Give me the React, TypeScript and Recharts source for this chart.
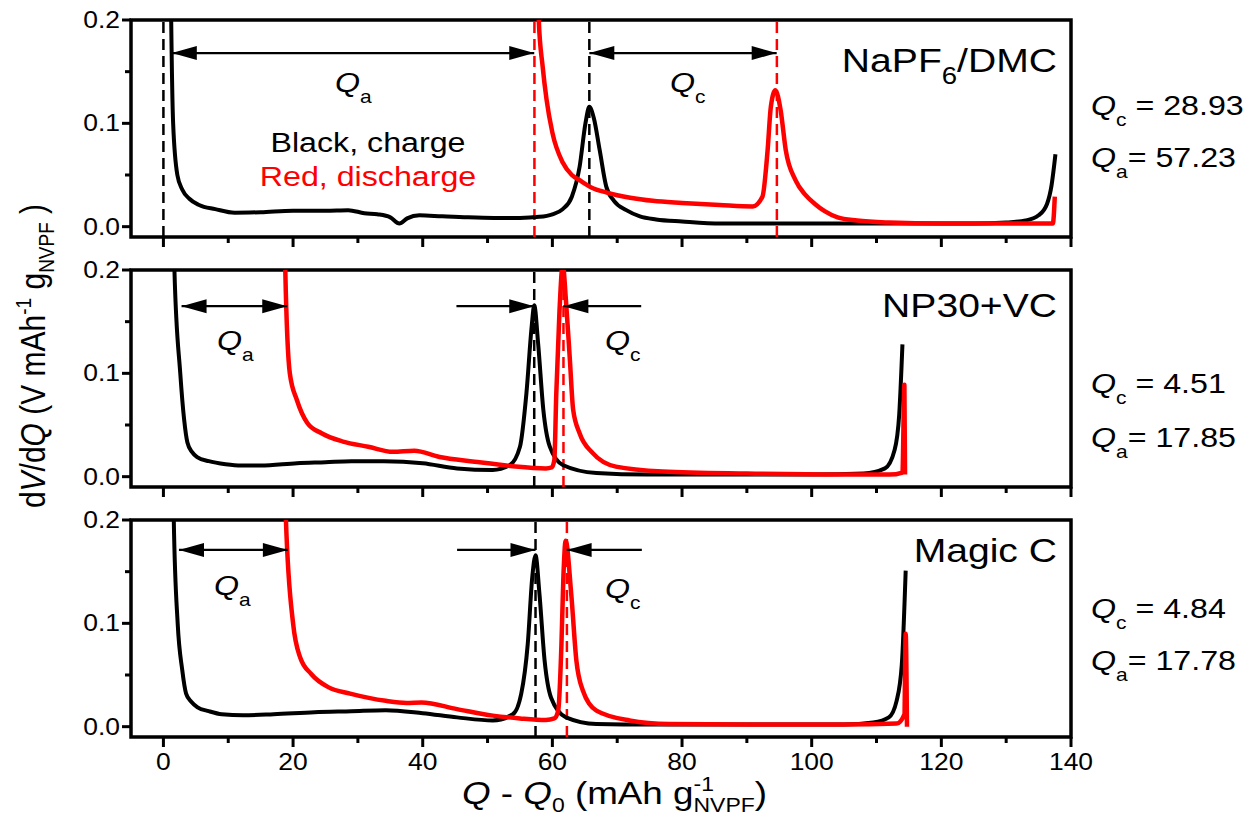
import React from 'react'
import { LineChart, Line, XAxis, YAxis, ReferenceLine, ReferenceArea } from 'recharts'

const FONT = '"Liberation Sans", Arial, Helvetica, sans-serif'
const SX = 1.15 // the source figure is slightly stretched horizontally
const RED = '#ff0000'

const xTicks = [0, 10, 20, 30, 40, 50, 60, 70, 80, 90, 100, 110, 120, 130, 140]
const yTicks = [0, 0.05, 0.1, 0.15, 0.2]

// NaPF6/DMC
const napfChargeQ = [0.9, 1.2, 1.5, 2.15, 2.9, 4, 5.5, 8, 11, 15, 20, 25, 28.5, 31, 33, 35, 36.4, 37.6, 39.5, 43, 47, 51, 55, 58, 60, 61.6, 63, 64.2, 65.1, 65.7, 66.4, 67.3, 68.3, 69.5, 71.4, 73.5, 76, 80, 86, 95, 105, 115, 125, 130, 133, 135, 136.3, 137, 137.6]
const napfChargeV = [0.4, 0.2, 0.1, 0.05, 0.036, 0.027, 0.021, 0.017, 0.0135, 0.014, 0.0155, 0.0155, 0.016, 0.013, 0.012, 0.009, 0.003, 0.008, 0.011, 0.01, 0.009, 0.0085, 0.0085, 0.0095, 0.012, 0.017, 0.029, 0.058, 0.1, 0.116, 0.105, 0.074, 0.039, 0.025, 0.016, 0.01, 0.007, 0.005, 0.003, 0.003, 0.003, 0.003, 0.003, 0.004, 0.006, 0.011, 0.022, 0.04, 0.07]
const napfDischargeQ = [57.6, 57.9, 58.5, 59.1, 60, 61.6, 63, 64.2, 66, 68.4, 72, 75.5, 80, 85.8, 90.9, 92.4, 93.2, 93.7, 94.4, 95.2, 96, 97.5, 99, 100.5, 102, 104, 107, 112, 120, 130, 137.2, 137.5]
const napfDischargeV = [0.35, 0.2, 0.155, 0.123, 0.091, 0.062, 0.05, 0.045, 0.038, 0.033, 0.028, 0.025, 0.023, 0.021, 0.0196, 0.029, 0.074, 0.116, 0.132, 0.113, 0.074, 0.045, 0.031, 0.022, 0.015, 0.009, 0.006, 0.004, 0.003, 0.003, 0.003, 0.029]

// NP30+VC
const npChargeQ = [1.5, 1.7, 2.6, 3.2, 3.7, 4.4, 5.2, 7, 9.6, 12, 15, 20.6, 25, 29, 34, 40, 45.3, 50.8, 53.4, 55, 56, 56.8, 57.2, 57.8, 58.6, 59.6, 61.6, 66.8, 74.5, 85, 100, 108, 111.3, 112.8, 113.5, 114]
const npChargeV = [0.35, 0.2, 0.1, 0.055, 0.033, 0.024, 0.019, 0.015, 0.012, 0.0107, 0.0107, 0.013, 0.014, 0.015, 0.015, 0.013, 0.008, 0.0065, 0.011, 0.029, 0.081, 0.145, 0.166, 0.129, 0.065, 0.029, 0.0113, 0.0035, 0.002, 0.002, 0.002, 0.003, 0.008, 0.026, 0.06, 0.128]
const npDischargeQ = [18.6, 18.8, 19.5, 20.6, 22.2, 24.4, 27.7, 31.6, 35.4, 38.7, 42.6, 48, 53.5, 59, 59.9, 60.3, 60.6, 61.1, 61.6, 62.1, 62.7, 63.2, 64.2, 66.2, 69.8, 77, 90, 105, 112, 114, 114.3, 114.4]
const npDischargeV = [0.35, 0.2, 0.1, 0.074, 0.052, 0.042, 0.034, 0.029, 0.024, 0.025, 0.019, 0.0145, 0.0104, 0.008, 0.009, 0.016, 0.08, 0.161, 0.205, 0.17, 0.113, 0.065, 0.042, 0.023, 0.0097, 0.005, 0.003, 0.002, 0.002, 0.004, 0.089, 0.002]

// Magic C
const mcChargeQ = [1.4, 1.6, 2.2, 2.9, 3.5, 4.3, 5.2, 7, 9, 12.3, 17, 23.3, 29, 34.3, 40, 45.3, 50.8, 53.9, 55.2, 56.2, 56.9, 57.4, 58, 58.8, 59.8, 62.1, 66.8, 75, 90, 105, 109.5, 111.9, 113.1, 113.9, 114.5]
const mcChargeV = [0.35, 0.2, 0.1, 0.055, 0.032, 0.024, 0.019, 0.015, 0.012, 0.011, 0.012, 0.014, 0.015, 0.016, 0.013, 0.009, 0.006, 0.012, 0.032, 0.08, 0.145, 0.166, 0.129, 0.064, 0.028, 0.009, 0.0026, 0.002, 0.002, 0.002, 0.004, 0.009, 0.025, 0.06, 0.151]
const mcDischargeQ = [18.7, 18.9, 20, 21.1, 22.8, 25.5, 28.8, 34.3, 37.5, 39.8, 45.3, 50.8, 55, 59, 60.3, 60.9, 61.4, 61.7, 62.05, 62.9, 63.7, 64.7, 66.8, 71.9, 78, 90, 105, 113.1, 114.3, 114.5, 114.7]
const mcDischargeV = [0.35, 0.2, 0.1, 0.067, 0.051, 0.038, 0.032, 0.025, 0.023, 0.0235, 0.017, 0.0107, 0.008, 0.0065, 0.008, 0.0155, 0.08, 0.145, 0.18, 0.129, 0.064, 0.035, 0.0155, 0.006, 0.0026, 0.002, 0.002, 0.003, 0.012, 0.09, 0]

// dashed markers (peak / onset positions)
const napfBlackMarks = [0, 65.7]
const napfRedMarks = [57.23, 94.63]
const npBlackMarks = [57.2]
const npRedMarks = [61.71]
const mcBlackMarks = [57.4]
const mcRedMarks = [62.24]

type Arrow = { from: number; to: number; y: number; both: boolean }
const napfArrows: Arrow[] = [
  { from: 1.3, to: 57.2, y: 0.168, both: true },
  { from: 65.7, to: 94.6, y: 0.168, both: true },
]
const npArrows: Arrow[] = [
  { from: 2.8, to: 19.1, y: 0.165, both: true },
  { from: 45.2, to: 57.2, y: 0.165, both: false },
  { from: 73.7, to: 61.7, y: 0.165, both: false },
]
const mcArrows: Arrow[] = [
  { from: 2.4, to: 19.2, y: 0.171, both: true },
  { from: 45.3, to: 57.4, y: 0.171, both: false },
  { from: 73.8, to: 62.2, y: 0.171, both: false },
]

const zip = (q: number[], v: number[]) => q.map((x, i) => ({ x, y: v[i] }))

const panels = [
  { key: 'napf', top: 0, charge: zip(napfChargeQ, napfChargeV), discharge: zip(napfDischargeQ, napfDischargeV), black: napfBlackMarks, red: napfRedMarks, arrows: napfArrows, labels: false },
  { key: 'np', top: 250, charge: zip(npChargeQ, npChargeV), discharge: zip(npDischargeQ, npDischargeV), black: npBlackMarks, red: npRedMarks, arrows: npArrows, labels: false },
  { key: 'mc', top: 499.5, charge: zip(mcChargeQ, mcChargeV), discharge: zip(mcDischargeQ, mcDischargeV), black: mcBlackMarks, red: mcRedMarks, arrows: mcArrows, labels: true },
]

function XTick({ x, y, payload, showLabel }: any) {
  const v = payload.value
  const major = v % 20 === 0
  return (
    <g>
      <line x1={x} x2={x} y1={y} y2={y + (major ? 10 : 6)} stroke="#000" strokeWidth={3} />
      {showLabel && major && (
        <text transform={`translate(${x},${y + 33}) scale(${SX},1)`} textAnchor="middle" fontSize={23} fontFamily={FONT} fill="#000">
          {v}
        </text>
      )}
    </g>
  )
}

function YTick({ x, y, payload }: any) {
  const v = payload.value
  const major = Math.abs(v * 10 - Math.round(v * 10)) < 1e-6
  return (
    <g>
      <line x1={x} x2={x - (major ? 9 : 6)} y1={y} y2={y} stroke="#000" strokeWidth={3} />
      {major && (
        <text transform={`translate(${x - 11},${y + 8}) scale(${SX},1)`} textAnchor="end" fontSize={23} fontFamily={FONT} fill="#000">
          {v.toFixed(1)}
        </text>
      )}
    </g>
  )
}

// arrow drawn from the reference line's scaled end points
const arrowShape = (both: boolean) => (p: any) => {
  const { x1, y1, x2, y2 } = p
  const dir = x2 >= x1 ? 1 : -1
  const L = 25
  const W = 7
  return (
    <g>
      <line x1={x1} y1={y1} x2={x2} y2={y2} stroke="#000" strokeWidth={2.2} />
      <polygon points={`${x2},${y2} ${x2 - dir * L},${y2 - W} ${x2 - dir * L},${y2 + W}`} fill="#000" />
      {both && <polygon points={`${x1},${y1} ${x1 + dir * L},${y1 - W} ${x1 + dir * L},${y1 + W}`} fill="#000" />}
    </g>
  )
}

function Panel({ p }: { p: (typeof panels)[number] }) {
  const h = p.labels ? 287 : 267
  return (
    <div style={{ position: 'absolute', left: 0, top: p.top, width: 1250, height: h }}>
      <LineChart width={1250} height={h} margin={{ top: 20, right: 179, bottom: 0, left: 91 }}>
        <XAxis
          type="number"
          dataKey="x"
          domain={[-5, 140]}
          allowDataOverflow
          ticks={xTicks}
          interval={0}
          height={p.labels ? 50 : 30}
          axisLine={false}
          tickLine={false}
          tickSize={0}
          tickMargin={0}
          tick={(t: any) => <XTick {...t} showLabel={p.labels} />}
        />
        <YAxis
          type="number"
          domain={[-0.01, 0.2]}
          allowDataOverflow
          ticks={yTicks}
          interval={0}
          width={40}
          axisLine={false}
          tickLine={false}
          tickSize={0}
          tickMargin={0}
          tick={(t: any) => <YTick {...t} />}
        />
        {p.black.map((v) => (
          <ReferenceLine key={'b' + v} x={v} stroke="#000" strokeWidth={2.5} strokeDasharray="11 6" />
        ))}
        {p.red.map((v) => (
          <ReferenceLine key={'r' + v} x={v} stroke={RED} strokeWidth={2.5} strokeDasharray="11 6" />
        ))}
        <Line data={p.charge} dataKey="y" type="monotone" stroke="#000" strokeWidth={4} strokeLinejoin="round" dot={false} isAnimationActive={false} />
        <Line data={p.discharge} dataKey="y" type="monotone" stroke={RED} strokeWidth={4.5} strokeLinejoin="round" dot={false} isAnimationActive={false} />
        {p.arrows.map((a, i) => (
          <ReferenceLine
            key={'a' + i}
            segment={[{ x: a.from, y: a.y }, { x: a.to, y: a.y }]}
            shape={arrowShape(a.both)}
          />
        ))}
        <ReferenceArea x1={-5} x2={140} y1={-0.01} y2={0.2} fill="none" fillOpacity={0} stroke="#000" strokeWidth={3.5} />
      </LineChart>
    </div>
  )
}

function Txt({ x, y, size, anchor = 'start', fill = '#000', children }: any) {
  return (
    <text
      transform={`translate(${x},${y}) scale(${SX},1)`}
      fontSize={size}
      textAnchor={anchor}
      fill={fill}
      fontFamily={FONT}
      style={{ whiteSpace: 'pre' }}
    >
      {children}
    </text>
  )
}

function QLabel({ x, y, sub, rest = '', size = 28 }: any) {
  const d = size * 0.38
  return (
    <Txt x={x} y={y} size={size}>
      <tspan fontStyle="italic">Q</tspan>
      <tspan fontSize={size * 0.65} dy={d}>{sub}</tspan>
      {rest && <tspan dy={-d}>{rest}</tspan>}
    </Txt>
  )
}

function Overlay() {
  return (
    <svg width={1250} height={819} style={{ position: 'absolute', left: 0, top: 0, pointerEvents: 'none' }}>
      {/* NaPF6/DMC */}
      <QLabel x={335} y={92} sub="a" />
      <QLabel x={670} y={92} sub="c" />
      <Txt x={368} y={152} size={28} anchor="middle">Black, charge</Txt>
      <Txt x={368} y={186} size={28} anchor="middle" fill={RED}>Red, discharge</Txt>
      <Txt x={1057} y={72} size={34} anchor="end">
        NaPF<tspan fontSize={24} dy={12}>6</tspan>
        <tspan dy={-12}>/DMC</tspan>
      </Txt>
      <QLabel x={1091} y={115} sub="c" rest=" = 28.93" />
      <QLabel x={1091} y={167} sub="a" rest="= 57.23" />

      {/* NP30+VC */}
      <QLabel x={217} y={350} sub="a" />
      <QLabel x={605} y={350} sub="c" />
      <Txt x={1057} y={317} size={34} anchor="end">NP30+VC</Txt>
      <QLabel x={1091} y={393} sub="c" rest=" = 4.51" />
      <QLabel x={1091} y={447} sub="a" rest="= 17.85" />

      {/* Magic C */}
      <QLabel x={214} y={595} sub="a" />
      <QLabel x={605} y={598} sub="c" />
      <Txt x={1057} y={562} size={34} anchor="end">Magic C</Txt>
      <QLabel x={1091} y={618} sub="c" rest=" = 4.84" />
      <QLabel x={1091} y={670} sub="a" rest="= 17.78" />

      {/* axis titles */}
      <Txt x={462} y={804} size={32}>
        <tspan fontStyle="italic">Q</tspan>
        <tspan> - </tspan>
        <tspan fontStyle="italic">Q</tspan>
        <tspan fontSize={20} dy={8}>0</tspan>
        <tspan dy={-8}> (mAh g</tspan>
        <tspan fontSize={20} dy={-13}>-1</tspan>
        <tspan fontSize={20} dx={-17.8} dy={21}>NVPF</tspan>
        <tspan dy={-8}>)</tspan>
      </Txt>
      <text
        transform={`translate(45,356) scale(${SX},1) rotate(-90)`}
        textAnchor="middle"
        fontSize={30}
        fontFamily={FONT}
        fill="#000"
        style={{ whiteSpace: 'pre' }}
      >
        d<tspan fontStyle="italic">V</tspan>/d<tspan fontStyle="italic">Q</tspan> (V mAh
        <tspan fontSize={19} dy={-12}>-1</tspan>
        <tspan dy={12}> g</tspan>
        <tspan fontSize={19} dy={8}>NVPF</tspan>
        <tspan dy={-8}> )</tspan>
      </text>
    </svg>
  )
}

export default function App() {
  return (
    <div style={{ position: 'absolute', left: 0, top: 0, width: 1250, height: 819, background: '#fff', fontFamily: FONT }}>
      {panels.map((p) => (
        <Panel key={p.key} p={p} />
      ))}
      <Overlay />
    </div>
  )
}
